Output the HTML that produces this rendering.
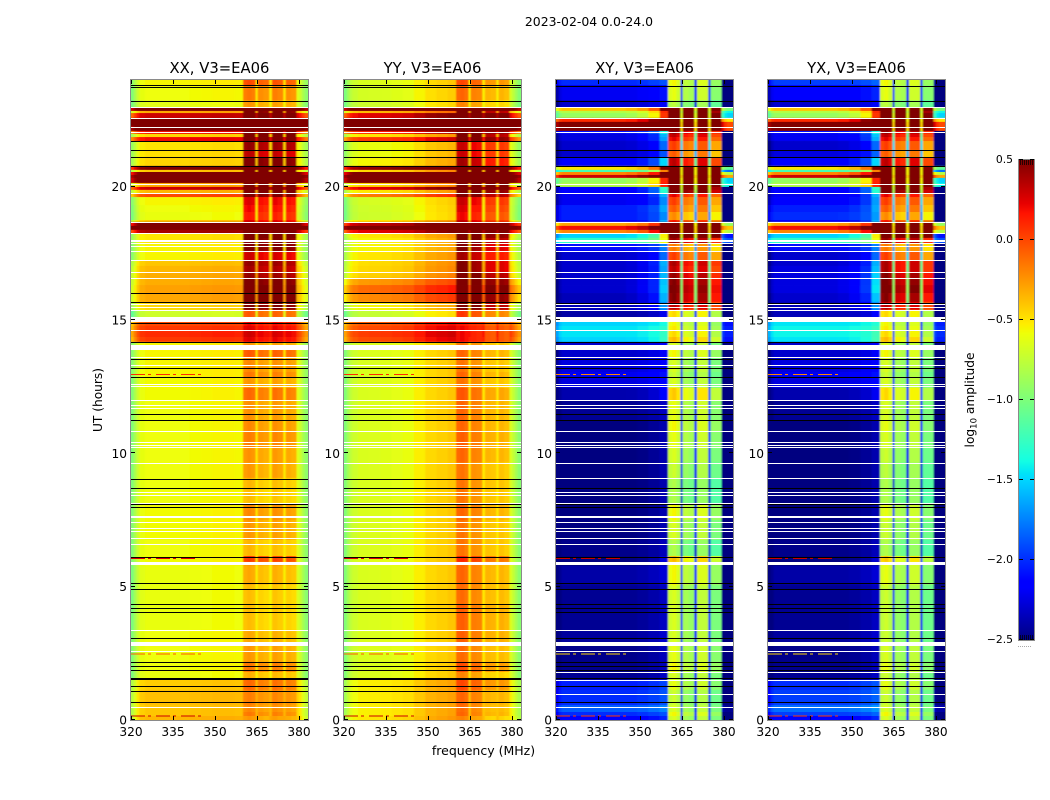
<!DOCTYPE html>
<html>
<head>
<meta charset="utf-8">
<title>2023-02-04 0.0-24.0</title>
<style>
html,body{margin:0;padding:0;background:#fff;}
svg{display:block;}
text{font-family:"DejaVu Sans","Liberation Sans",sans-serif;fill:#000;}
</style>
</head>
<body>
<svg id="figure" width="1050" height="800" viewBox="0 0 1050 800" xmlns="http://www.w3.org/2000/svg">
<defs>
<filter id="soften" x="-5%" y="-2%" width="110%" height="104%"><feGaussianBlur stdDeviation="0.9 0.35"/></filter>
</defs>
<text x="589" y="26" font-size="12.45" text-anchor="middle">2023-02-04 0.0-24.0</text>
<text x="483.5" y="755" font-size="12.5" text-anchor="middle">frequency (MHz)</text>
<text x="0" y="0" font-size="12.2" text-anchor="middle" transform="translate(102,400) rotate(-90)">UT (hours)</text>
<text x="0" y="0" font-size="12.2" text-anchor="middle" transform="translate(974,400) rotate(-90)">log<tspan font-size="8.5" dy="2.5">10</tspan><tspan dy="-2.5"> amplitude</tspan></text>
</svg>
<script>
// Top edge of each time band (UT hours), ten per line
const bandTopUT = [
24,23.81,23.25,22.95,22.84,22.76,22.58,22.43,22.28,22.09,
21.98,21.86,21.71,21.38,21.08,20.78,20.63,20.55,20.44,20.33,
20.14,19.99,19.88,19.76,19.61,19.31,19.05,18.75,18.68,18.53,
18.38,18.26,18.08,17.85,17.59,17.25,17.03,16.8,16.58,16.31,
16.01,15.68,15.38,15.15,14.93,14.78,14.63,14.36,14.18,14.06,
13.88,13.58,13.05,12.83,12.45,12,11.25,10.8,10.2,9.68,
9.08,8.63,8.1,7.5,6.75,6.15,5.93,5.78,5.06,4.31,
3.38,2.93,2.78,2.18,1.8,1.5,1.13,0.56,0.3,0.15];

// log10 amplitude away from the RFI block, per band
const xxPlateau = [
-.55,-.58,-.62,.7,-.3,.3,.9,.9,.8,.2,
-.45,.2,-.5,-.48,-.45,.5,-.4,.6,.8,.7,
-.3,.3,-.35,0,-.55,-.58,-.6,-.4,.6,.9,
.4,-.5,-.5,-.55,-.55,-.4,-.35,-.32,-.32,-.28,
-.3,-.45,-.7,-.7,0,.05,.1,.05,-.55,-.55,
-.55,-.55,-.55,-.57,-.57,-.58,-.58,-.58,-.58,-.58,
-.58,-.58,-.57,-.57,-.58,-.57,-.58,-.6,-.6,-.6,
-.58,-.58,-.58,-.58,-.6,-.42,-.38,-.4,-.4,-.35];
// log10 amplitude inside the RFI block (360-379 MHz), per band
const xxPeak = [
-.05,-.2,-.3,.7,.5,.7,.9,.9,.9,.7,
.6,.7,.4,.3,.5,.8,.8,.8,.9,.9,
.6,.7,.6,.5,.2,.15,.1,.2,.9,.9,
.9,.7,.5,.5,.25,.4,.35,.4,.5,.6,
.55,.5,-.1,-.1,.15,.2,.25,.2,-.3,-.3,
-.1,-.25,-.2,-.3,-.15,-.28,-.25,-.22,-.28,-.3,
-.4,-.42,-.25,-.3,-.4,0,-.3,-.35,-.42,-.42,
-.35,-.35,-.3,-.2,-.38,-.15,-.22,-.25,-.2,-.3];

const yyPlateau = [
-.6,-.62,-.65,.7,-.3,.3,.9,.9,.8,.2,
-.45,.1,-.55,-.55,-.5,.5,-.4,.6,.8,.7,
-.4,.3,-.45,-.1,-.62,-.64,-.65,-.45,.4,.8,
.3,-.45,-.5,-.5,-.45,-.42,-.4,-.38,-.2,-.05,
-.15,-.5,-.68,-.68,0,.05,.1,.05,-.6,-.6,
-.6,-.6,-.6,-.6,-.6,-.6,-.6,-.6,-.6,-.6,
-.6,-.6,-.6,-.6,-.6,-.58,-.58,-.6,-.6,-.6,
-.6,-.6,-.6,-.6,-.6,-.48,-.48,-.48,-.48,-.45];
const yyPeak = [
-.1,-.2,-.3,.7,.5,.7,.9,.9,.9,.6,
.5,.6,.2,.2,.3,.8,.8,.8,.9,.9,
.7,.7,.6,.5,.2,.15,.1,.2,.8,.9,
.9,.6,.5,.4,.3,.4,.4,.5,.6,.7,
.6,.5,-.05,-.05,.05,.1,.1,.1,-.25,-.3,
-.2,-.25,-.2,-.25,-.15,-.2,-.2,-.18,-.2,-.25,
-.25,-.25,-.2,-.25,-.25,0,-.2,-.2,-.22,-.18,
-.18,-.22,-.22,-.12,-.3,-.1,-.2,-.22,-.2,-.3];

const xyPlateau = [
-2,-2.2,-2.3,-.4,-.8,-.9,.1,.6,.6,-2.1,
-2.25,-2.25,-2.3,-2.3,-2.15,-.5,-1.2,-.2,.3,-.9,
-.8,-2.15,-2.15,-2.2,-2.2,-2.05,-2.05,-2.15,-.3,.2,
-.2,-1.5,-1.3,-2.1,-2.3,-2.3,-2.3,-2.3,-2.3,-2.3,
-2.35,-2.35,-2.4,-2.4,-1.5,-1.45,-1.45,-1.5,-2.3,-2.3,
-2.3,-2.25,-2.2,-2.25,-2.38,-2.45,-2.5,-2.5,-2.5,-2.5,
-2.5,-2.5,-2.5,-2.5,-2.47,-2.5,-2.5,-2.4,-2.45,-2.45,
-2.42,-2.45,-2.47,-2.47,-2.45,-2.05,-2,-1.85,-2,-2.15];
const xyPeak = [
-.7,-.75,-.9,.7,.6,.7,.8,.9,.9,.3,
.2,.1,-.1,-.2,.2,.8,.8,.8,.9,.8,
.7,.6,.5,.1,-.1,-.2,-.35,0,.8,.9,
.9,.7,.3,-.3,-.1,.25,.2,.3,.35,.4,
.35,.2,-.6,-.6,-.7,-.65,-.6,-.5,-.8,-.8,
-.7,-.8,-.85,-.8,-.55,-.75,-.7,-.75,-.8,-.85,
-.95,-.95,-.7,-.8,-.95,-.5,-.7,-.7,-.8,-.8,
-.8,-.8,-.75,-.7,-.8,-.75,-.85,-.8,-.7,-.8];

const yxPlateau = [
-1.95,-2.15,-2.3,-.4,-.8,-.9,.1,.6,.6,-2.1,
-2.2,-2.2,-2.3,-2.25,-2.15,-.5,-1.2,-.2,.3,-.9,
-.8,-2.15,-2.15,-2.2,-2.15,-2.05,-2,-2.15,-.3,.2,
-.2,-1.5,-1.3,-2.1,-2.3,-2.3,-2.25,-2.25,-2.25,-2.25,
-2.3,-2.35,-2.35,-2.35,-1.45,-1.4,-1.4,-1.45,-2.3,-2.3,
-2.3,-2.25,-2.2,-2.25,-2.38,-2.45,-2.5,-2.5,-2.5,-2.5,
-2.5,-2.5,-2.5,-2.5,-2.47,-2.5,-2.5,-2.4,-2.45,-2.45,
-2.42,-2.45,-2.47,-2.47,-2.45,-2,-1.95,-1.8,-1.95,-2.15];
const yxPeak = [
-.7,-.75,-.9,.7,.6,.7,.8,.9,.9,.3,
.2,.1,-.1,-.2,.2,.8,.8,.8,.9,.8,
.7,.6,.5,.1,-.1,-.2,-.35,0,.8,.9,
.9,.7,.3,-.3,-.1,.25,.25,.35,.4,.45,
.35,.2,-.6,-.6,-.7,-.65,-.6,-.5,-.8,-.8,
-.7,-.8,-.85,-.8,-.6,-.8,-.75,-.8,-.85,-.9,
-.95,-.95,-.75,-.85,-.95,-.55,-.75,-.75,-.85,-.85,
-.85,-.85,-.8,-.75,-.85,-.75,-.85,-.8,-.7,-.8];

// Frequency channels (MHz): edges, role (p plateau, q RFI block, g gap between blocks)
const channelEdgesMHz = [320,321,322,323,325,329,333,337,341,345,349,353,357,360,361.5,363,364.5,365.2,367.3,369.4,370.3,372.3,374.4,375.2,377.2,379.1,380,381,382,383.2];
const channelRole = ['p','p','p','p','p','p','p','p','p','p','p','p','p','q','q','q','g','q','q','g','q','q','g','q','q','p','p','p','p'];
const xxChannelOffset = [-.4,-.25,-.12,-.03,0,0,0,0,.01,.02,.03,.03,.02,.03,.06,.03,.05,-.02,-.05,.05,.03,0,.05,-.02,-.05,-.05,-.12,-.25,-.35];
const yyChannelOffset = [-.38,-.25,-.15,-.1,-.06,-.05,-.04,-.02,0,.07,.14,.17,.2,.1,.12,.08,.08,.02,0,.08,-.14,-.16,.08,-.14,-.18,-.05,-.14,-.25,-.35];
const crossChannelOffset = [-.2,-.05,0,0,0,0,0,0,0,0,.02,.06,.12,.1,.15,.05,0,-.05,-.1,0,.05,.05,0,-.2,-.2,-.5,-.6,-.6,-.6];
// How strongly bright RFI leaks into neighbouring cross-hand channels
const crossLeakage = [0,0,0,0,0,0,0,0,0,.03,.08,.2,.6,0,0,0,0,0,0,0,0,0,0,0,0,.1,.05,0,0];

// Flagged (blank) rows: top UT and bottom UT
const flagTopUT = [22.98,22.56,22.25,22.06,20.09,19.75,18.69,18.25,18,17.89,17.76,17.59,17.24,16.79,16.56,15.6,15.5,15.38,15.12,14.61,14.06,13.6,13.31,12.59,12.51,11.99,11.8,11.69,10.83,10.41,10.3,10.23,9.63,8.54,8.42,8.13,7.66,7.6,7.41,7.19,7.08,6.81,6.59,5.91,3.36,2.94,2.58,0.48];
const flagBottomUT = [22.94,22.52,22.21,22.02,20.05,19.71,18.65,18.21,17.94,17.85,17.72,17.55,17.2,16.75,16.52,15.56,15.46,15.34,14.94,14.57,13.88,13.56,13.27,12.55,12.47,11.95,11.76,11.65,10.79,10.37,10.26,10.19,9.59,8.5,8.38,8.09,7.62,7.56,7.37,7.15,7.04,6.77,6.55,5.78,3.32,2.78,2.54,0.44];
const crossExtraFlagUT = [9.06,1.81,1.5,0.98];

// Black marker lines at UT hours
const coMarkerUT = [23.81,23.73,23.22,21.72,21.38,21.1,20.78,16,15.68,14.9,14.16,13.53,13.19,12.85,11.46,11.24,9.04,8.69,8.09,7.99,6.1,5.13,4.9,4.34,4.19,4.04,3.06,2.16,2.01,1.86,1.58,1.54,1.26,1.08,0.66];
const crossMarkerUT = [23.77,23.22,21.38,21.1,20.78,15.65,14.16,13.53,13.19,12.85,11.46,11.24,8.69,8.09,7.99,6.1,5.13,4.9,4.34,4.19,4.04,3.06,2.16,2.01,1.86,1.56,1.26,0.66];

// Narrow-band interference streaks
const streakUT = [12.97,6.08,2.5,0.17];
const streakStartMHz = [320,320,320,320];
const streakEndMHz = [345,343,345,345];
const streakCoValue = [.1,.25,-.05,.3];
const streakCrossValue = [-.2,.3,-.45,.05];

const panelTitles = ['XX, V3=EA06','YY, V3=EA06','XY, V3=EA06','YX, V3=EA06'];
const panelIds = ['xx','yy','xy','yx'];
const xTickMHz = [320,335,350,365,380];
const yTickUT = [0,5,10,15,20];
const colorbarTicks = [0.5,0,-0.5,-1,-1.5,-2,-2.5];
const colorbarTickLabels = ['0.5','0.0','\u22120.5','\u22121.0','\u22121.5','\u22122.0','\u22122.5'];
const colorbarMinorTicks = [0,1,2,3,4,5,6];

const SVGNS = 'http://www.w3.org/2000/svg';
const fig = document.getElementById('figure');
const defs = fig.querySelector('defs');
const VMIN = -2.5, VMAX = 0.5, FMIN = 320, FMAX = 383.2, TMAX = 24;
const AX_TOP = 80, AX_BOTTOM = 720, AX_WIDTH = 177;
const axLeft = [131,344,556,768];

function xScale(mhz, i){ return axLeft[i] + (mhz - FMIN) * AX_WIDTH / (FMAX - FMIN); }
function yScale(ut){ return AX_BOTTOM - ut * (AX_BOTTOM - AX_TOP) / TMAX; }
function segment(t, pts){
  for (let i = 1; i < pts.length; i++){
    if (t <= pts[i][0]) return pts[i-1][1] + (pts[i][1]-pts[i-1][1])*(t-pts[i-1][0])/(pts[i][0]-pts[i-1][0]);
  }
  return pts[pts.length-1][1];
}
function jet(v){
  const t = Math.max(0, Math.min(1, (v - VMIN) / (VMAX - VMIN)));
  const r = segment(t, [[0,0],[.35,0],[.66,1],[.89,1],[1,.5]]);
  const g = segment(t, [[0,0],[.125,0],[.375,1],[.64,1],[.91,0],[1,0]]);
  const b = segment(t, [[0,.5],[.11,1],[.34,1],[.65,0],[1,0]]);
  return 'rgb(' + Math.round(r*255) + ',' + Math.round(g*255) + ',' + Math.round(b*255) + ')';
}
function make(tag, attrs, parent){
  const el = document.createElementNS(SVGNS, tag);
  for (const k in attrs) el.setAttribute(k, attrs[k]);
  parent.appendChild(el);
  return el;
}

function cellValue(plateau, peak, ch, cross, offsets){
  const role = channelRole[ch];
  if (role === 'q') return peak + offsets[ch];
  if (role === 'g') return cross ? peak - 1.35 : plateau + offsets[ch];
  if (cross) return plateau + offsets[ch] + crossLeakage[ch] * Math.max(0, peak + 0.7);
  return plateau + offsets[ch];
}

const plateauByPanel = [xxPlateau, yyPlateau, xyPlateau, yxPlateau];
const peakByPanel = [xxPeak, yyPeak, xyPeak, yxPeak];
const offsetsByPanel = [xxChannelOffset, yyChannelOffset, crossChannelOffset, crossChannelOffset];

panelIds.forEach(function(id, p){
  const cross = p >= 2;
  const left = axLeft[p], right = left + AX_WIDTH;
  const g = make('g', {}, fig);
  
  

  const title = make('text', {x: left + AX_WIDTH/2, y: 73, 'font-size': 14.8, 'text-anchor': 'middle'}, g);
  
  
  title.textContent = panelTitles[p];

  const clip = make('clipPath', {id: 'clip-' + id}, defs);
  make('rect', {x: left, y: AX_TOP, width: AX_WIDTH, height: AX_BOTTOM - AX_TOP}, clip);
  const clipGroup = make('g', {'clip-path': 'url(#clip-' + id + ')'}, g);
  const cells = make('g', {filter: 'url(#soften)'}, clipGroup);
  
  
  bandTopUT.forEach(function(top, b){
    const bottom = b + 1 < bandTopUT.length ? bandTopUT[b+1] : 0;
    for (let ch = 0; ch < channelRole.length; ch++){
      let x0 = xScale(channelEdgesMHz[ch], p), x1 = xScale(channelEdgesMHz[ch+1], p);
      if (ch === 0) x0 -= 4;
      if (ch === channelRole.length - 1) x1 += 4;
      let y0 = yScale(top), y1 = yScale(bottom);
      if (b === 0) y0 -= 3;
      if (b === bandTopUT.length - 1) y1 += 3;
      const v = cellValue(plateauByPanel[p][b], peakByPanel[p][b], ch, cross, offsetsByPanel[p]);
      const cell = make('rect', {x: x0, y: y0, width: x1 - x0 + 0.4, height: y1 - y0 + 0.4, fill: jet(v)}, cells);
      
      
    }
  });

  streakUT.forEach(function(ut, s){
    const sy = yScale(ut) + 0.5;
    const st = make('line', {x1: xScale(streakStartMHz[s], p), x2: xScale(streakEndMHz[s], p), y1: sy, y2: sy, stroke: jet(cross ? streakCrossValue[s] : streakCoValue[s]), 'stroke-width': 1, 'stroke-dasharray': '14 3 3 5', 'shape-rendering': 'crispEdges'}, g);
    
    
  });

  flagTopUT.forEach(function(top, f){
    const fr = make('rect', {x: left, y: Math.round(yScale(top)), width: AX_WIDTH, height: Math.max(1, Math.round(yScale(flagBottomUT[f]) - yScale(top))), fill: '#fff', 'shape-rendering': 'crispEdges'}, g);
    
    
  });
  if (cross) crossExtraFlagUT.forEach(function(ut){
    const fr = make('rect', {x: left, y: Math.round(yScale(ut)), width: AX_WIDTH, height: 1, fill: '#fff', 'shape-rendering': 'crispEdges'}, g);
    
    
  });

  (cross ? crossMarkerUT : coMarkerUT).forEach(function(ut){
    const ml = make('rect', {x: left, y: Math.round(yScale(ut)), width: AX_WIDTH, height: 1, fill: '#000', 'shape-rendering': 'crispEdges'}, g);
    
    
  });

  const frame = make('rect', {x: left - 0.5, y: AX_TOP - 0.5, width: AX_WIDTH + 1, height: AX_BOTTOM - AX_TOP + 1, fill: 'none', stroke: '#8a8a8a', 'stroke-width': 1}, g);
  
  

  xTickMHz.forEach(function(mhz){
    const x = Math.round(xScale(mhz, p)) + 0.5;
    const t1 = make('line', {x1: x, x2: x, y1: AX_BOTTOM, y2: AX_BOTTOM - 4, stroke: '#000', 'stroke-width': 1}, g);
    
    
    const t2 = make('line', {x1: x, x2: x, y1: AX_TOP, y2: AX_TOP + 4, stroke: '#000', 'stroke-width': 1}, g);
    
    
    const lbl = make('text', {x: xScale(mhz, p), y: 736, 'font-size': 12.2, 'text-anchor': 'middle'}, g);
    
    
    lbl.textContent = mhz;
  });
  yTickUT.forEach(function(ut){
    const y = Math.round(yScale(ut)) - 0.5;
    const t1 = make('line', {x1: left, x2: left + 4, y1: y, y2: y, stroke: '#000', 'stroke-width': 1}, g);
    
    
    const t2 = make('line', {x1: right, x2: right - 4, y1: y, y2: y, stroke: '#000', 'stroke-width': 1}, g);
    
    
    const lbl = make('text', {x: left - 4, y: yScale(ut) + 4.5, 'font-size': 12.2, 'text-anchor': 'end'}, g);
    
    
    lbl.textContent = ut;
  });
});

// Colorbar
const CB_LEFT = 1019, CB_WIDTH = 15, CB_TOP = 160, CB_BOTTOM = 640;
function cbScale(v){ return CB_BOTTOM - (v - VMIN) * (CB_BOTTOM - CB_TOP) / (VMAX - VMIN); }
const cb = make('g', {}, fig);


const CB_STEPS = 240;
const cbCells = make('g', {'shape-rendering': 'crispEdges'}, cb);


for (let i = 0; i < CB_STEPS; i++){
  const v0 = VMIN + (VMAX - VMIN) * i / CB_STEPS;
  const v1 = VMIN + (VMAX - VMIN) * (i + 1) / CB_STEPS;
  const c = make('rect', {x: CB_LEFT, y: cbScale(v1), width: CB_WIDTH, height: cbScale(v0) - cbScale(v1) + 0.5, fill: jet((v0 + v1) / 2)}, cbCells);
  
  
}
const cbFrame = make('rect', {x: CB_LEFT - 0.5, y: CB_TOP - 0.5, width: CB_WIDTH + 1, height: CB_BOTTOM - CB_TOP + 1, fill: 'none', stroke: '#8a8a8a', 'stroke-width': 1}, cb);


colorbarTicks.forEach(function(v, i){
  const y = Math.round(cbScale(v)) - 0.5;
  const t1 = make('line', {x1: CB_LEFT, x2: CB_LEFT + 4, y1: y, y2: y, stroke: '#000', 'stroke-width': 1}, cb);
  
  
  const t2 = make('line', {x1: CB_LEFT + CB_WIDTH, x2: CB_LEFT + CB_WIDTH - 4, y1: y, y2: y, stroke: '#000', 'stroke-width': 1}, cb);
  
  
  const lbl = make('text', {x: CB_LEFT - 6, y: cbScale(v) + 3, 'font-size': 10.8, 'text-anchor': 'end'}, cb);
  
  
  lbl.textContent = colorbarTickLabels[i];
});
colorbarMinorTicks.forEach(function(n){
  const x = CB_LEFT + 1.5 + n * 2;
  const t1 = make('line', {x1: x, x2: x, y1: CB_TOP, y2: CB_TOP + 5, stroke: '#000', 'stroke-width': 0.7}, cb);
  
  
  const t2 = make('line', {x1: x, x2: x, y1: CB_BOTTOM, y2: CB_BOTTOM - 5, stroke: '#000', 'stroke-width': 0.7}, cb);
  
  
  const d = make('rect', {x: x - 2.5, y: 646, width: 1, height: 1, fill: '#aaa'}, cb);
  
  
});
</script>
</body>
</html>
